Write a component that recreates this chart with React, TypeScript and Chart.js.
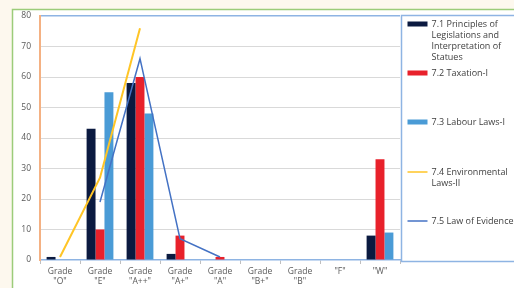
import React, { useEffect, useRef } from "react";
import { Chart, registerables } from "chart.js";

Chart.register(...registerables);

const categories: string[][] = [
  ["Grade", '"O"'],
  ["Grade", '"E"'],
  ["Grade", '"A++"'],
  ["Grade", '"A+"'],
  ["Grade", '"A"'],
  ["Grade", '"B+"'],
  ["Grade", '"B"'],
  ['"F"'],
  ['"W"'],
];

const seriesNames: string[][] = [
  ["7.1 Principles of", "Legislations and", "Interpretation of", "Statues"],
  ["7.2 Taxation-I"],
  ["7.3 Labour Laws-I"],
  ["7.4 Environmental", "Laws-II"],
  ["7.5 Law of Evidence"],
];

const principles = [1, 43, 58, 2, 0, 0, 0, 0, 8];
const taxation = [0, 10, 60, 8, 1, 0, 0, 0, 33];
const labour = [0, 55, 48, 0, 0, 0, 0, 0, 9];
const environmental = [1, 27, 76, null, null, null, null, null, null];
const evidence = [null, 19, 66, 7, 1, null, null, null, null];

const yTicks = [0, 10, 20, 30, 40, 50, 60, 70, 80];

const COLORS = ["#0b1a40", "#e8212b", "#4a9bd6", "#ffc526", "#4472c4"];
const FONT = "'Open Sans', 'Liberation Sans', sans-serif";

const framePlugin = {
  id: "frame",
  beforeDraw(chart: any) {
    const { ctx, width, height } = chart;
    ctx.save();
    ctx.fillStyle = "#fdf8ee";
    ctx.fillRect(0, 0, width, height);
    ctx.fillStyle = "#ffffff";
    ctx.fillRect(12, 9, width, height);
    ctx.strokeStyle = "#9ccc7a";
    ctx.lineWidth = 1.5;
    ctx.strokeRect(12.5, 9.5, width + 10, height + 10);
    ctx.restore();
  },
  afterDraw(chart: any) {
    const { ctx, chartArea } = chart;
    ctx.save();
    // legend box
    const bx = chartArea.right + 1.5;
    const by = chartArea.top - 0.5;
    const bh = chartArea.bottom + 1.5 - by;
    ctx.strokeStyle = "#8eb4e3";
    ctx.lineWidth = 1.5;
    ctx.strokeRect(bx, by, 200, bh);
    // legend items
    const itemY = [24, 73, 122, 172, 221];
    const lineH = 11;
    ctx.font = `9px ${FONT}`;
    ctx.textBaseline = "middle";
    ctx.textAlign = "left";
    chart.data.datasets.forEach((ds: any, i: number) => {
      const y = itemY[i];
      const x0 = bx + 6;
      if (ds.type === "line") {
        ctx.strokeStyle = ds.borderColor;
        ctx.lineWidth = 1.5;
        ctx.beginPath();
        ctx.moveTo(x0, y);
        ctx.lineTo(x0 + 20, y);
        ctx.stroke();
      } else {
        ctx.fillStyle = ds.backgroundColor;
        ctx.fillRect(x0, y - 2.5, 20, 5);
      }
      ctx.fillStyle = "#404040";
      const lines: string[] = seriesNames[i];
      lines.forEach((t, k) => ctx.fillText(t, x0 + 24, y + k * lineH));
    });
    ctx.restore();
  },
};

export default function App() {
  const ref = useRef<HTMLCanvasElement | null>(null);
  useEffect(() => {
    if (!ref.current) return;
    const barCommon = { type: "bar" as const, borderWidth: 0, order: 1 };
    const chart = new Chart(ref.current, {
      type: "bar",
      data: {
        labels: categories,
        datasets: [
          { ...barCommon, label: seriesNames[0].join(" "), data: principles, backgroundColor: COLORS[0] },
          { ...barCommon, label: seriesNames[1].join(" "), data: taxation, backgroundColor: COLORS[1] },
          { ...barCommon, label: seriesNames[2].join(" "), data: labour, backgroundColor: COLORS[2] },
          {
            type: "line",
            label: seriesNames[3].join(" "),
            data: environmental,
            borderColor: COLORS[3],
            backgroundColor: COLORS[3],
            borderWidth: 2,
            pointRadius: 0,
            tension: 0,
            order: 0,
          },
          {
            type: "line",
            label: seriesNames[4].join(" "),
            data: evidence,
            borderColor: COLORS[4],
            backgroundColor: COLORS[4],
            borderWidth: 1.5,
            pointRadius: 0,
            tension: 0,
            order: 0,
          },
        ] as any,
      },
      plugins: [framePlugin],
      options: {
        responsive: false,
        animation: false,
        layout: { padding: { left: 0, top: 16, right: 114, bottom: 0 } },
        datasets: { bar: { categoryPercentage: 0.67, barPercentage: 1 } } as any,
        plugins: { legend: { display: false }, tooltip: { enabled: false } },
        scales: {
          x: {
            offset: true,
            grid: {
              display: true,
              drawOnChartArea: false,
              drawTicks: true,
              tickLength: 4,
              color: "#bfbfbf",
              offset: true,
            },
            border: { display: true, color: "#8eb4e3", width: 1.5 },
            ticks: {
              color: "#595959",
              padding: 2,
              maxRotation: 0,
              autoSkip: false,
              font: { family: FONT, size: 8.5, lineHeight: 1.25 },
            },
            afterFit: (s: any) => {
              s.height = 28;
            },
          },
          y: {
            min: 0,
            max: 80,
            afterBuildTicks: (s: any) => {
              s.ticks = yTicks.map((v) => ({ value: v }));
            },
            grid: {
              drawTicks: false,
              color: (c: any) => (c.tick && c.tick.value === 80 ? "#8eb4e3" : c.tick && c.tick.value === 0 ? "rgba(0,0,0,0)" : "#d9d9d9"),
              lineWidth: (c: any) => (c.tick && c.tick.value === 80 ? 1.5 : 1),
            },
            border: { display: true, color: "#f4b183", width: 2 },
            ticks: {
              color: "#595959",
              padding: 9,
              font: { family: FONT, size: 8.5 },
            },
            afterFit: (s: any) => {
              s.width = 40;
            },
          },
        },
      },
    });
    return () => chart.destroy();
  }, []);
  return (
    <div style={{ position: "fixed", left: 0, top: 0, width: 514, height: 288 }}>
      <canvas ref={ref} width={514} height={288} style={{ display: "block" }} />
    </div>
  );
}
